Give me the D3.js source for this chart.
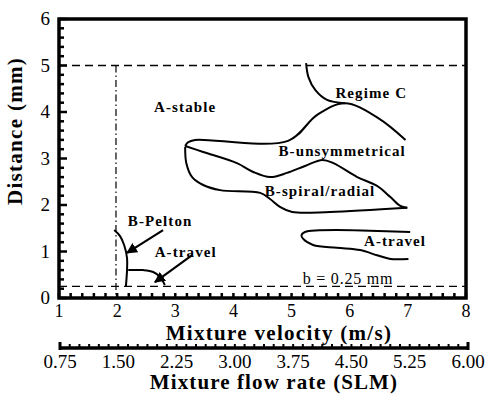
<!DOCTYPE html>
<html><head><meta charset="utf-8">
<script src="https://cdn.jsdelivr.net/npm/d3@7"></script>
<style>
body{margin:0;background:#fff;}
text{font-family:"Liberation Serif","DejaVu Serif",serif;fill:#000;}
</style></head>
<body><svg id="c" width="488" height="394"></svg>
<script>
// ---- data ----
const velocityTicks = [1,2,3,4,5,6,7,8];
const distanceTicks = [0,1,2,3,4,5,6];
const flowTicks = ["0.75","1.50","2.25","3.00","3.75","4.50","5.25","6.00"];
const regimeCBoundary = [[5.25,5.05],[5.29,4.75],[5.41,4.47],[5.61,4.26],[5.92,4.19]];
const unsymTop = [[6.96,3.40],[6.49,3.87],[5.92,4.19],[5.44,3.94],[4.94,3.38],[3.34,3.40],[3.22,3.35],[3.17,3.27]];
const spiralTop = [[3.17,3.27],[3.48,3.14],[4.06,2.90],[4.34,2.71],[4.63,2.60],[4.92,2.69],[5.23,2.84],[5.53,2.97],[5.72,2.90],[6.13,2.60],[6.47,2.41],[6.70,2.17],[6.87,1.98],[6.99,1.94]];
const spiralBottom = [[3.17,3.25],[3.19,2.90],[3.29,2.60],[3.48,2.43],[3.77,2.32],[4.46,2.26],[4.63,2.13],[4.80,1.96],[5.01,1.85],[5.66,1.85],[6.99,1.94]];
const travelRight = [[7.04,1.42],[5.23,1.42],[5.17,1.35],[5.20,1.27],[5.37,1.14],[5.78,1.08],[6.18,1.03],[6.47,0.92],[6.70,0.84],[7.01,0.84]];
const peltonCurve = [[1.95,1.46],[2.05,1.33],[2.12,1.14],[2.17,0.86],[2.17,0.60],[2.15,0.24]];
const travelLeft = [[2.19,0.60],[2.45,0.60],[2.62,0.56],[2.74,0.45],[2.82,0.28]];
const arrows = [{from:[2.79,1.46],to:[2.17,0.97]},{from:[3.29,0.92],to:[2.65,0.34]}];
const labels = [
 {t:"A-stable",v:3.17,d:4.11},{t:"Regime C",v:6.37,d:4.40},
 {t:"B-unsymmetrical",v:5.87,d:3.17},{t:"B-spiral/radial",v:5.49,d:2.31},
 {t:"B-Pelton",v:2.74,d:1.66},{t:"A-travel",v:3.18,d:1.00},
 {t:"A-travel",v:6.78,d:1.22}
];
const bLine = 0.25, stableLine = 5, peltonX = 1.98;

// ---- layout ----
const svg = d3.select("#c");
const x = d3.scaleLinear().domain([1,8]).range([59,466]);
const y = d3.scaleLinear().domain([0,6]).range([298,19]);
const xf = d3.scaleLinear().domain([0.75,6.00]).range([60,468]);

// frame
svg.append("rect").attr("x",x(1)).attr("y",y(6)).attr("width",x(8)-x(1)).attr("height",y(0)-y(6))
  .attr("fill","none").attr("stroke","#000").attr("stroke-width",3.5);

// left ticks (inward)
const yMinor = d3.range(0,6.001,0.2);
svg.append("g").selectAll("line").data(yMinor).join("line")
  .attr("x1",x(1)).attr("x2",d=>x(1)+ (Math.abs(d-Math.round(d))<1e-6?8:5))
  .attr("y1",d=>y(d)).attr("y2",d=>y(d)).attr("stroke","#000").attr("stroke-width",2.5);
// bottom ticks (inward)
const xMinor = d3.range(1,8.001,0.2);
svg.append("g").selectAll("line").data(xMinor).join("line")
  .attr("x1",d=>x(d)).attr("x2",d=>x(d)).attr("y1",y(0)).attr("y2",y(0)-5)
  .attr("stroke","#000").attr("stroke-width",2.5);

// y tick labels
svg.append("g").selectAll("text").data(distanceTicks).join("text")
  .attr("x",50).attr("y",d=>y(d)+6).attr("text-anchor","end").attr("font-size",19).text(d=>d);
// x tick labels
svg.append("g").selectAll("text").data(velocityTicks).join("text")
  .attr("x",d=>x(d)).attr("y",317).attr("text-anchor","middle").attr("font-size",18).text(d=>d);

// axis titles
svg.append("text").attr("transform","translate(22,131) rotate(-90)").attr("text-anchor","middle")
  .attr("font-size",21).attr("font-weight","bold").attr("letter-spacing",1.3).text("Distance (mm)");
svg.append("text").attr("x",279).attr("y",340).attr("text-anchor","middle")
  .attr("font-size",21).attr("font-weight","bold").attr("letter-spacing",1.3).text("Mixture velocity (m/s)");

// secondary axis
const ay = 348;
svg.append("line").attr("x1",xf(0.75)).attr("x2",xf(6.0)).attr("y1",ay).attr("y2",ay)
  .attr("stroke","#000").attr("stroke-width",3.5);
const fMinor = d3.range(0.75,6.001,0.125);
svg.append("g").selectAll("line").data(fMinor).join("line")
  .attr("x1",d=>xf(d)).attr("x2",d=>xf(d)).attr("y1",ay).attr("y2",ay-4)
  .attr("stroke","#000").attr("stroke-width",2);
svg.append("g").selectAll("line").data([0.75,6.0]).join("line")
  .attr("x1",d=>xf(d)).attr("x2",d=>xf(d)).attr("y1",ay+2).attr("y2",ay-6)
  .attr("stroke","#000").attr("stroke-width",3);
svg.append("g").selectAll("text").data(flowTicks).join("text")
  .attr("x",d=>xf(+d)).attr("y",368).attr("text-anchor","middle").attr("font-size",19).text(d=>d);
svg.append("text").attr("x",274).attr("y",389).attr("text-anchor","middle")
  .attr("font-size",21).attr("font-weight","bold").attr("letter-spacing",1.1).text("Mixture flow rate (SLM)");

// reference lines
svg.append("line").attr("x1",x(1)).attr("x2",x(8)).attr("y1",y(stableLine)).attr("y2",y(stableLine))
  .attr("stroke","#000").attr("stroke-width",1.3).attr("stroke-dasharray","8,5");
svg.append("line").attr("x1",x(1)).attr("x2",x(8)).attr("y1",y(bLine)).attr("y2",y(bLine))
  .attr("stroke","#000").attr("stroke-width",1.3).attr("stroke-dasharray","8,5");
svg.append("line").attr("x1",x(peltonX)).attr("x2",x(peltonX)).attr("y1",y(stableLine)).attr("y2",y(0))
  .attr("stroke","#000").attr("stroke-width",1.2).attr("stroke-dasharray","7,3,1.5,3");

// curves
const line = d3.line().x(d=>x(d[0])).y(d=>y(d[1])).curve(d3.curveCatmullRom.alpha(0.5));
[regimeCBoundary,unsymTop,spiralTop,spiralBottom,travelRight,peltonCurve,travelLeft].forEach(c=>{
  svg.append("path").attr("d",line(c)).attr("fill","none").attr("stroke","#000").attr("stroke-width",2);
});

// arrows
svg.append("defs").append("marker").attr("id","ah").attr("viewBox","0 0 10 10").attr("refX",9).attr("refY",5)
  .attr("markerWidth",5).attr("markerHeight",5).attr("orient","auto").attr("markerUnits","strokeWidth")
  .append("path").attr("d","M0,0L10,5L0,10z").attr("fill","#000");
arrows.forEach(a=>{
  svg.append("line").attr("x1",x(a.from[0])).attr("y1",y(a.from[1])).attr("x2",x(a.to[0])).attr("y2",y(a.to[1]))
    .attr("stroke","#000").attr("stroke-width",2.2).attr("marker-end","url(#ah)");
});

// labels
svg.append("g").selectAll("text").data(labels).join("text")
  .attr("x",d=>x(d.v)).attr("y",d=>y(d.d)+5).attr("text-anchor","middle")
  .attr("font-size",15).attr("font-weight","bold").attr("letter-spacing",1.1).text(d=>d.t);
svg.append("text").attr("x",348).attr("y",284).attr("text-anchor","middle").attr("font-size",16)
  .attr("letter-spacing",0.8).text("b = 0.25 mm");
</script></body></html>
